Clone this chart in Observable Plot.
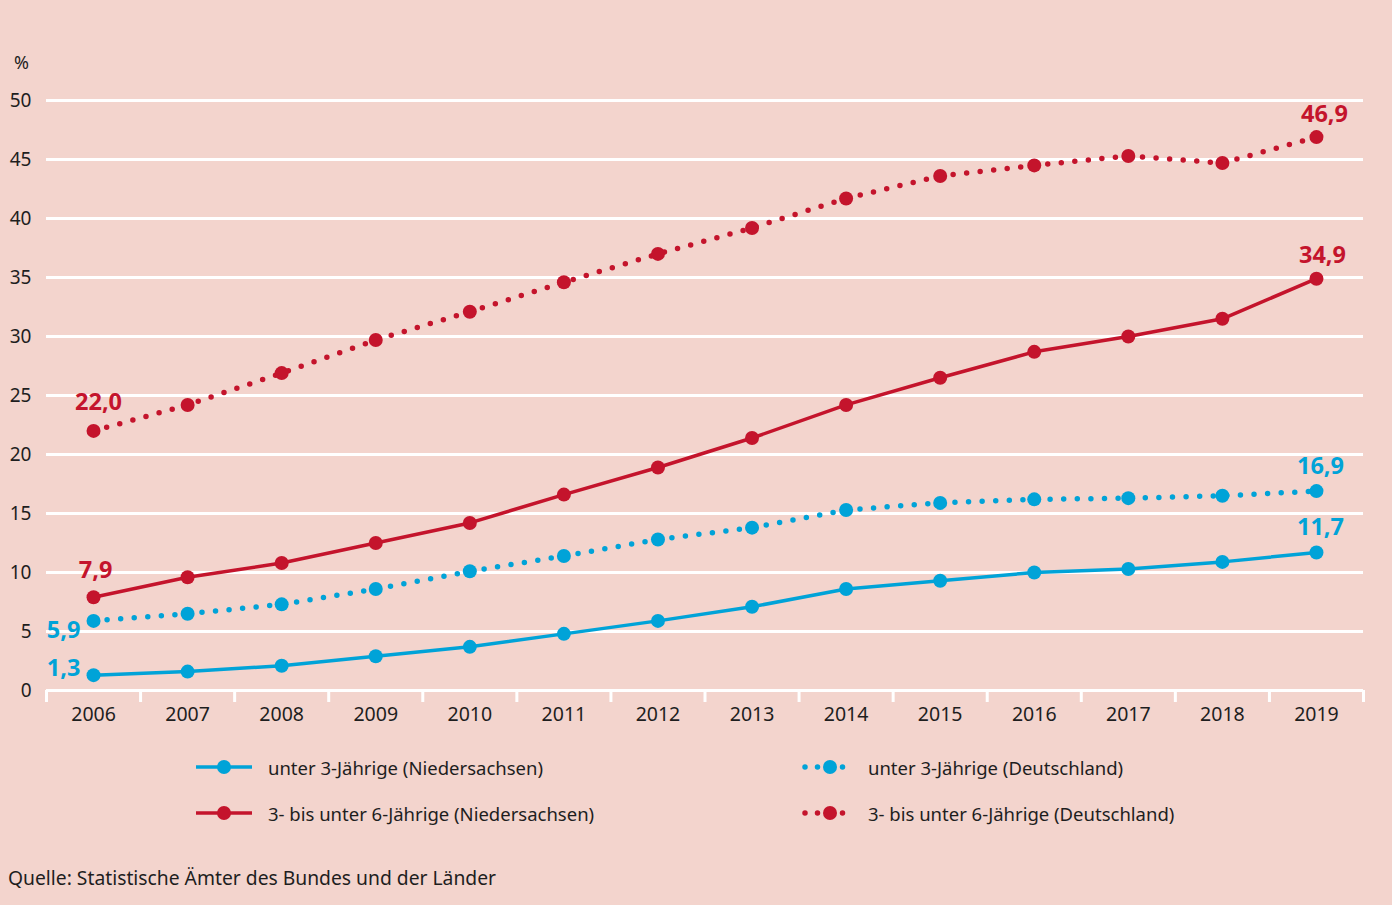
<!DOCTYPE html>
<html>
<head>
<meta charset="utf-8">
<script src="https://cdn.jsdelivr.net/npm/d3@7"></script>
<script src="https://cdn.jsdelivr.net/npm/@observablehq/plot@0.6"></script>
<style>
  html, body { margin: 0; padding: 0; background: #f3d4cd; }
  body { font-family: "Noto Sans", sans-serif; color: #1e1e1e; }
  #wrap { position: relative; width: 1392px; height: 905px; background: #f3d4cd; overflow: hidden; }
  #chart { position: absolute; left: 0; top: 0; }
  #pct { position: absolute; left: 14px; top: 50px; font-size: 18px; }
  .leg { position: absolute; display: flex; align-items: center; font-size: 18.5px; white-space: nowrap; }
  .leg svg { margin-right: 16px; }
  .leg.dotted svg { margin-right: 10px; }
  #caption { position: absolute; left: 8px; top: 864px; font-size: 19.3px; }
</style>
</head>
<body>
<div id="wrap">
  <div id="chart"></div>
  <div id="pct">%</div>
  <div id="legend"></div>
  <div id="caption">Quelle: Statistische Ämter des Bundes und der Länder</div>
</div>
<script>
const years = [2006,2007,2008,2009,2010,2011,2012,2013,2014,2015,2016,2017,2018,2019];
const u3Nds = [1.3,1.6,2.1,2.9,3.7,4.8,5.9,7.1,8.6,9.3,10.0,10.3,10.9,11.7];
const u3De  = [5.9,6.5,7.3,8.6,10.1,11.4,12.8,13.8,15.3,15.9,16.2,16.3,16.5,16.9];
const u6Nds = [7.9,9.6,10.8,12.5,14.2,16.6,18.9,21.4,24.2,26.5,28.7,30.0,31.5,34.9];
const u6De  = [22.0,24.2,26.9,29.7,32.1,34.6,37.0,39.2,41.7,43.6,44.5,45.3,44.7,46.9];
const seriesNames = [
  "unter 3-Jährige (Niedersachsen)",
  "unter 3-Jährige (Deutschland)",
  "3- bis unter 6-Jährige (Niedersachsen)",
  "3- bis unter 6-Jährige (Deutschland)"
];
const yTicks = [0,5,10,15,20,25,30,35,40,45,50];

const BLUE = "#00a3d8", RED = "#c4142c";
const seriesDefs = [
  {name: seriesNames[0], values: u3Nds, color: BLUE, dotted: false, fdx: -30, fdy: -7, ldx: 4, ldy: -25},
  {name: seriesNames[1], values: u3De,  color: BLUE, dotted: true,  fdx: -30, fdy: 10, ldx: 4, ldy: -25},
  {name: seriesNames[2], values: u6Nds, color: RED,  dotted: false, fdx: 2,   fdy: -27, ldx: 6, ldy: -23},
  {name: seriesNames[3], values: u6De,  color: RED,  dotted: true,  fdx: 5,   fdy: -28, ldx: 8, ldy: -23}
];
const fmt = v => v.toFixed(1).replace(".", ",");
const boundaries = years.map(y => y - 0.5).concat([years[years.length-1] + 0.5]);

const marks = [
  Plot.gridY(yTicks, {stroke: "#ffffff", strokeOpacity: 1, strokeWidth: 3}),
  Plot.axisY(yTicks, {tickSize: 0, tickPadding: 15, fontSize: 19, label: null, fill: "#1e1e1e"}),
  Plot.axisX(boundaries, {tickSize: 12, stroke: "#ffffff", strokeWidth: 3, strokeOpacity: 1, tickFormat: () => "", label: null}),
  Plot.axisX(years, {tickSize: 0, tickPadding: 17, fontSize: 19.5, tickFormat: d => String(d), label: null, fill: "#1e1e1e"})
];
for (const s of seriesDefs) {
  const data = years.map((y, i) => ({year: y, value: s.values[i]}));
  marks.push(Plot.line(data, {
    x: "year", y: "value", stroke: s.color,
    strokeWidth: s.dotted ? 5.5 : 3.5,
    strokeDasharray: s.dotted ? "0 13.6" : null,
    strokeLinecap: "round", strokeLinejoin: "round", curve: "linear"
  }));
  marks.push(Plot.dot(data, {x: "year", y: "value", r: 7, fill: s.color, stroke: null}));
  marks.push(Plot.text([data[0]], {x: "year", y: "value", text: d => fmt(d.value), dx: s.fdx, dy: s.fdy, fill: s.color, fontSize: 23.5, fontWeight: "bold"}));
  marks.push(Plot.text([data[data.length-1]], {x: "year", y: "value", text: d => fmt(d.value), dx: s.ldx, dy: s.ldy, fill: s.color, fontSize: 23.5, fontWeight: "bold"}));
}

const chart = Plot.plot({
  width: 1392,
  height: 735,
  marginLeft: 46,
  marginRight: 29,
  marginTop: 100,
  marginBottom: 45,
  style: {background: "transparent", fontFamily: "Noto Sans, sans-serif", color: "#1e1e1e"},
  x: {type: "linear", domain: [years[0] - 0.5, years[years.length-1] + 0.5]},
  y: {domain: [0, 50]},
  marks
});
document.getElementById("chart").appendChild(chart);

// Legend
const legendPos = [
  {left: 196, top: 754}, {left: 802, top: 754},
  {left: 196, top: 800}, {left: 802, top: 800}
];
const legend = document.getElementById("legend");
seriesDefs.forEach((s, i) => {
  const div = document.createElement("div");
  div.className = "leg" + (s.dotted ? " dotted" : "");
  div.style.left = legendPos[i].left + "px";
  div.style.top = legendPos[i].top + "px";
  let sym;
  if (s.dotted) {
    sym = `<svg width="56" height="26">
      <line x1="3" y1="13" x2="53" y2="13" stroke="${s.color}" stroke-width="5.5" stroke-linecap="round" stroke-dasharray="0 12.5"/>
      <circle cx="28" cy="13" r="7" fill="${s.color}"/></svg>`;
  } else {
    sym = `<svg width="56" height="26">
      <line x1="0" y1="13" x2="56" y2="13" stroke="${s.color}" stroke-width="3.5"/>
      <circle cx="28" cy="13" r="7" fill="${s.color}"/></svg>`;
  }
  div.innerHTML = sym + `<span>${s.name}</span>`;
  legend.appendChild(div);
});
</script>
</body>
</html>
